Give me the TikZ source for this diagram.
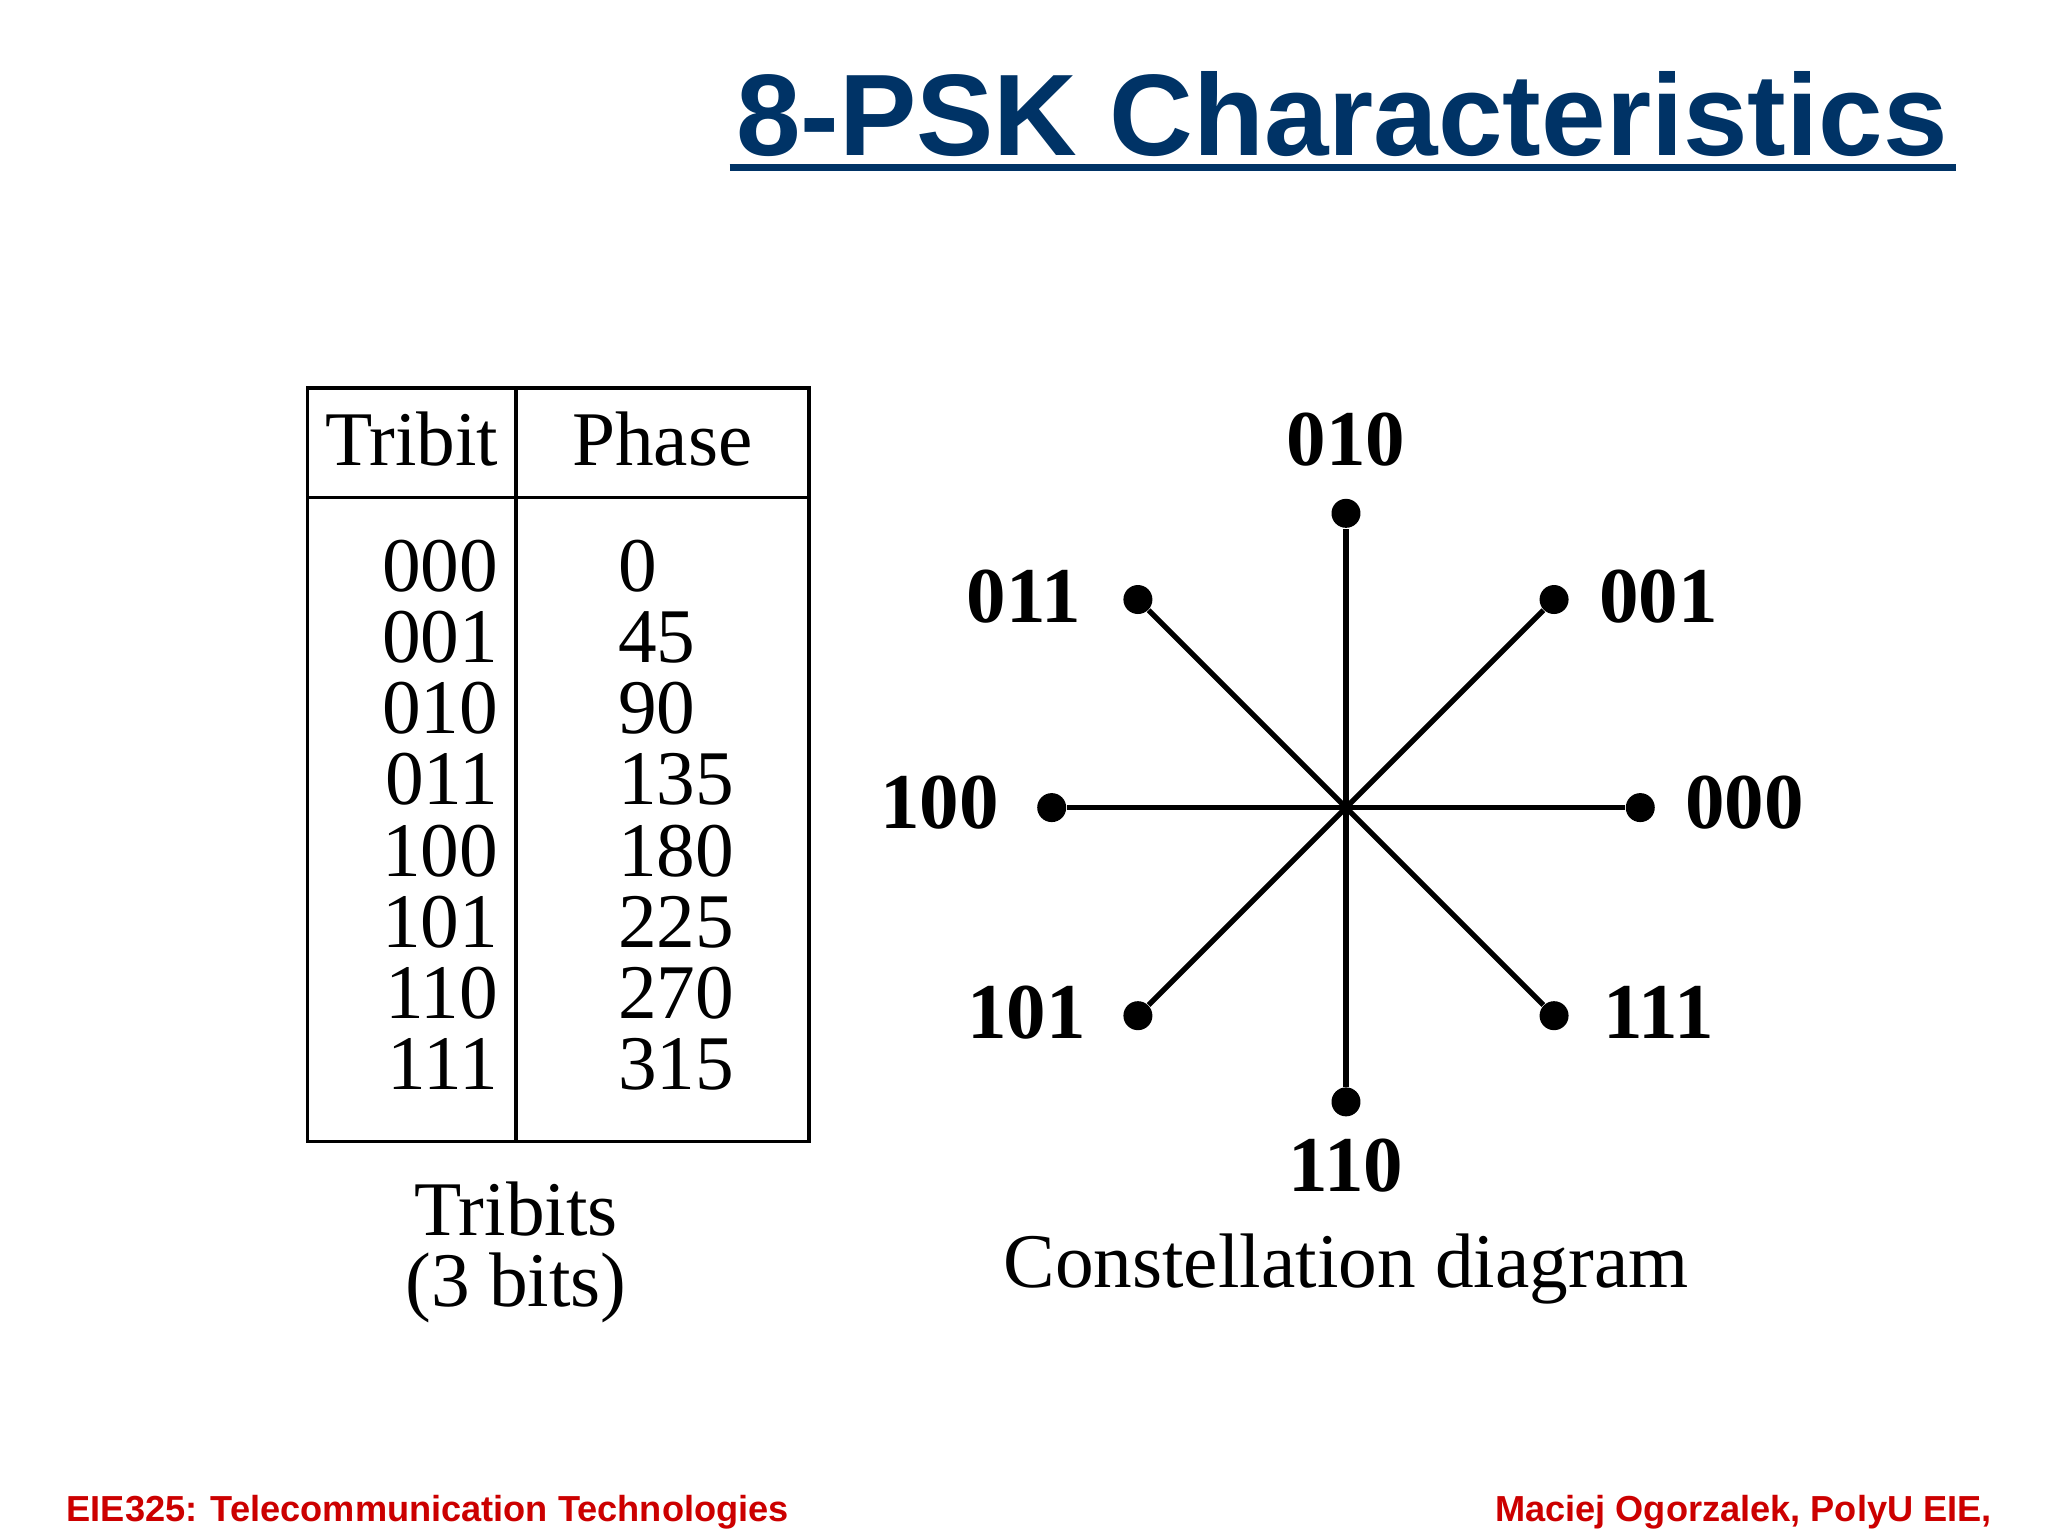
\documentclass[tikz,border=0pt]{standalone}
\usepackage{fontspec}
\usetikzlibrary{calc}
\setmainfont{Liberation Serif}
\setsansfont{Liberation Sans}
\definecolor{titleblue}{RGB}{0,51,102}
\definecolor{footred}{RGB}{204,0,0}
\begin{document}
\begin{tikzpicture}[x=0.0132cm,y=-0.0132cm,
  tab/.style={font=\fontsize{22}{26}\selectfont,inner sep=0},
  lab/.style={font=\fontsize{22.5}{26}\selectfont\bfseries,inner sep=0},
  spoke/.style={line width=1.5pt},
  dot/.style={circle,fill=black,inner sep=0,minimum size=0.29cm},
  foot/.style={font=\sffamily\bfseries\fontsize{10.3}{12}\selectfont,text=footred,inner sep=0}]
\useasboundingbox (0,0) rectangle (1552,1164);
% title
\node[font=\sffamily\bfseries\fontsize{33}{40}\selectfont,text=titleblue,anchor=base,inner sep=0] (title) at (1017,118) {8-PSK Characteristics};
\draw[titleblue,line width=2.2pt] (553,127) -- (1482,127);
% table
\draw[line width=1.1pt] (233,294) rectangle (613,865);
\draw[line width=1.1pt] (391,294) -- (391,865);
\draw[line width=1.1pt] (233,377) -- (613,377);
\node[tab,anchor=base] (h1) at (312,353) {Tribit};
\node[tab,anchor=base] (h2) at (502,353) {Phase};
\foreach \t/\p [count=\i from 0] in {000/0,001/45,010/90,011/135,100/180,101/225,110/270,111/315}{
  \node[tab,anchor=base east] (t\i) at (378,{448+54*\i}) {\t};
  \node[tab,anchor=base west] (p\i) at (468,{448+54*\i}) {\p};
}
\node[tab,anchor=base] (cap1) at (391,936) {Tribits};
\node[tab,anchor=base] (cap2) at (391,990) {(3 bits)};
% constellation
\coordinate (c) at (1020,612);
\foreach \n/\a in {000/0,001/45,010/90,011/135,100/180,101/225,110/270,111/315}{
  \node[dot] (d\n) at ($(c)+({223*cos(\a)},{-223*sin(\a)})$) {};
  \draw[spoke] (c) -- (d\n);
}
\node[lab] (l010) at (1020,333) {010};
\node[lab] (l001) at (1257,452) {001};
\node[lab] (l000) at (1322,608) {000};
\node[lab] (l111) at (1257,767) {111};
\node[lab] (l110) at (1020,883) {110};
\node[lab] (l101) at (778,767) {101};
\node[lab] (l100) at (712,608) {100};
\node[lab] (l011) at (776,452) {011};
\node[tab,anchor=base] (cd) at (1020,976) {Constellation diagram};
% footer
\node[foot,anchor=base west] (f1) at (50,1153) {EIE325: Telecommunication Technologies};
\node[foot,anchor=base east] (f2) at (1510,1153) {Maciej Ogorzalek, PolyU EIE,};
\end{tikzpicture}
\end{document}
